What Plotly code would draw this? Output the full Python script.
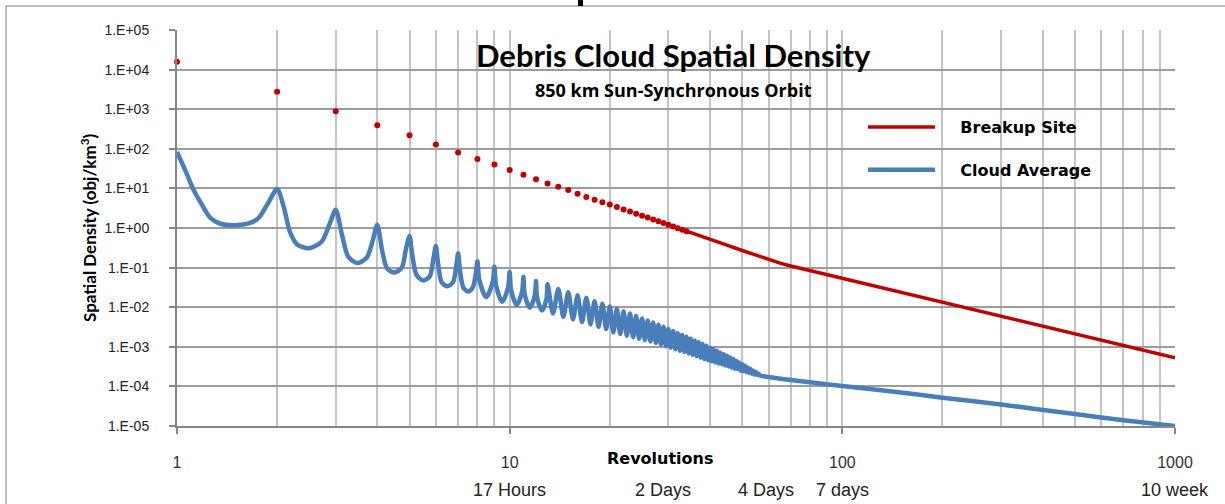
import math
import plotly.graph_objects as go

# ---------------- data ----------------
# Breakup Site: one value per revolution; individual dots visible up to ~34 revs
breakup_dot_rev = list(range(1, 35))
breakup_dot_density = [15800, 2770, 890, 392, 219, 129, 81, 55, 40, 29,
                       22, 17, 13.3, 11, 9.1, 7.3, 6.1, 5.2, 4.5, 3.9,
                       3.4, 2.95, 2.6, 2.3, 2.05, 1.83, 1.64, 1.47, 1.33, 1.2,
                       1.09, 0.99, 0.9, 0.83]
# beyond ~34 revs the dots merge into a continuous line
breakup_line_rev = [34, 36, 40, 45, 50, 55, 60, 65, 70, 80, 100, 150, 200, 300, 500, 700, 1000]
breakup_line_density = [0.83, 0.71, 0.52, 0.37, 0.27, 0.205, 0.158, 0.13, 0.11, 0.084,
                        0.053, 0.0235, 0.0132, 0.0059, 0.0021, 0.00107, 0.00053]

# Cloud Average: oscillating curve, peaks at each whole revolution
cloud_early_rev = [1.00, 1.06, 1.12, 1.19, 1.26, 1.35, 1.50, 1.65, 1.76, 1.88, 2.00,
                   2.09, 2.19, 2.30, 2.50, 2.72, 2.88, 3.00,
                   3.13, 3.27, 3.48, 3.72, 3.88, 4.00,
                   4.14, 4.28, 4.50, 4.74, 4.88, 5.00,
                   5.10, 5.25, 5.50, 5.75, 5.90, 6.00,
                   6.09, 6.25, 6.50, 6.75, 6.91, 7.00,
                   7.09, 7.26, 7.50, 7.74, 7.91, 8.00,
                   8.10, 8.50, 8.90, 9.00,
                   9.10, 9.50, 9.90, 10.00,
                   10.10, 10.50, 10.90, 11.00,
                   11.10, 11.50, 11.90, 12.00,
                   12.10, 12.50, 12.90, 13.00,
                   13.50, 14.00, 14.50, 15.00, 15.50, 16.00,
                   16.50, 17.00, 17.50, 18.00, 18.50, 19.00, 19.50, 20.00]
cloud_early_density = [83, 28, 9.4, 3.8, 1.8, 1.28, 1.18, 1.32, 1.8, 4.3, 9.6,
                       3.6, 0.76, 0.38, 0.31, 0.45, 1.3, 2.9,
                       0.7, 0.19, 0.13, 0.18, 0.5, 1.2,
                       0.26, 0.095, 0.075, 0.1, 0.3, 0.63,
                       0.2, 0.065, 0.047, 0.06, 0.17, 0.35,
                       0.13, 0.042, 0.034, 0.042, 0.11, 0.23,
                       0.085, 0.031, 0.025, 0.031, 0.07, 0.145,
                       0.05, 0.018, 0.045, 0.105,
                       0.036, 0.0138, 0.033, 0.077,
                       0.027, 0.0114, 0.025, 0.059,
                       0.021, 0.0097, 0.02, 0.046,
                       0.017, 0.0083, 0.016, 0.038,
                       0.0069, 0.029, 0.0057, 0.024, 0.0049, 0.020,
                       0.0042, 0.0174, 0.0037, 0.0142, 0.0032, 0.0123, 0.0028, 0.0104]
# dense part: peak at each whole revolution 21..56, trough half a revolution later (20.5..56.5)
cloud_peak_rev = list(range(21, 57))
cloud_peak_density = [0.0091, 0.0079, 0.0069, 0.0060, 0.0052, 0.0046, 0.0041, 0.0036, 0.0032, 0.0028,
                      0.0025, 0.0022, 0.0020, 0.0018, 0.0016, 0.00145, 0.0013, 0.00118, 0.00107, 0.00095,
                      0.00087, 0.00079, 0.00071, 0.00065, 0.00059, 0.00054, 0.00049, 0.00044, 0.0004, 0.00036,
                      0.00033, 0.0003, 0.000275, 0.00025, 0.00023, 0.00021]
cloud_trough_rev = [r + 0.5 for r in range(20, 57)]
cloud_trough_density = [0.0023, 0.0021, 0.0019, 0.00175, 0.0016, 0.00148, 0.00136, 0.00125, 0.00114, 0.00104,
                        0.00095, 0.00087, 0.0008, 0.00074, 0.00068, 0.00063, 0.00058, 0.00053, 0.00049, 0.00046,
                        0.00043, 0.0004, 0.00038, 0.00036, 0.00034, 0.00032, 0.0003, 0.00028, 0.00027, 0.00025,
                        0.00024, 0.00023, 0.00022, 0.00021, 0.0002, 0.000195, 0.00019]
cloud_tail_rev = [58, 60, 70, 80, 100, 150, 200, 300, 500, 700, 1000]
cloud_tail_density = [1.8e-4, 1.72e-4, 1.45e-4, 1.27e-4, 1.02e-4, 7.0e-5, 5.2e-5, 3.5e-5, 2.0e-5, 1.4e-5, 1.0e-5]

# tick labels
x_tick_vals = [1, 10, 100, 1000]
x_tick_text = ["1", "10", "100", "1000"]
y_tick_vals = [1e-5, 1e-4, 1e-3, 1e-2, 1e-1, 1, 10, 100, 1e3, 1e4, 1e5]
y_tick_text = ["1.E-05", "1.E-04", "1.E-03", "1.E-02", "1.E-01", "1.E+00",
               "1.E+01", "1.E+02", "1.E+03", "1.E+04", "1.E+05"]
x_minor_vals = [m * d for d in (1, 10, 100) for m in range(2, 10)]
time_label_rev = [10, 29, 59, 100, 1000]
time_label_text = ["17 Hours", "2 Days", "4 Days", "7 days", "10 week"]

# assemble the cloud curve (peak / trough interleaving for the dense region)
cloud_rev = list(cloud_early_rev)
cloud_density = list(cloud_early_density)
for i in range(len(cloud_trough_rev)):
    cloud_rev.append(cloud_trough_rev[i]); cloud_density.append(cloud_trough_density[i])
    if i < len(cloud_peak_rev):
        cloud_rev.append(cloud_peak_rev[i]); cloud_density.append(cloud_peak_density[i])
cloud_rev += cloud_tail_rev
cloud_density += cloud_tail_density

RED = "#C00000"
BLUE = "#4A7EBB"
NB = "\u00a0"

fig = go.Figure()
fig.add_trace(go.Scatter(x=cloud_rev, y=cloud_density, mode="lines", name=NB * 4 + "<b>Cloud Average</b>",
                         line=dict(color=BLUE, width=4.5, shape="spline", smoothing=0.8),
                         legendgroup="b"))
fig.add_trace(go.Scatter(x=breakup_line_rev, y=breakup_line_density, mode="lines",
                         name=NB * 4 + "<b>Breakup Site</b>", line=dict(color=RED, width=3.5),
                         legendgroup="a", legendrank=1))
fig.add_trace(go.Scatter(x=breakup_dot_rev, y=breakup_dot_density, mode="markers",
                         marker=dict(color=RED, size=6), showlegend=False, cliponaxis=False))

W, H = 1225, 504
L, R, T, B = 177, 50, 30, 78
pw, ph = W - L - R, H - T - B

def px(x):
    return (x - L) / pw

def py(y):
    return (H - B - y) / ph

annotations = [
    dict(text="<b>Debris Cloud Spatial Density</b>", x=px(673), y=py(55), xref="paper", yref="paper",
         showarrow=False, font=dict(family="Lato", size=31, color="#000000"), xanchor="center", yanchor="middle"),
    dict(text="<b>850 km Sun-Synchronous Orbit</b>", x=px(673), y=py(90), xref="paper", yref="paper",
         showarrow=False, font=dict(family="Open Sans", size=18, color="#000000"), xanchor="center", yanchor="middle"),
    dict(text="<b>Revolutions</b>", x=px(660), y=py(458), xref="paper", yref="paper",
         showarrow=False, font=dict(family="DejaVu Sans", size=16, color="#000000"), xanchor="center", yanchor="middle"),
    dict(text="<b>Spatial Density (obj/km<sup>3</sup>)</b>", x=px(88), y=0.5, xref="paper", yref="paper",
         textangle=-90, showarrow=False, font=dict(family="Lato", size=17, color="#000000"),
         xanchor="center", yanchor="middle"),
]
for r, t in zip(time_label_rev, time_label_text):
    annotations.append(dict(text=t, x=math.log10(r), y=py(490), xref="x", yref="paper", showarrow=False,
                            font=dict(family="Liberation Sans", size=18, color="#222222"),
                            xanchor="center", yanchor="middle"))

shapes = [
    dict(type="rect", xref="paper", yref="paper", x0=px(6), x1=px(1240), y0=py(520), y1=py(6),
         line=dict(color="#A6A6A6", width=1.5), fillcolor="rgba(0,0,0,0)", layer="below"),
    dict(type="rect", xref="paper", yref="paper", x0=px(578), x1=px(583), y0=py(6), y1=py(-2),
         line=dict(width=0), fillcolor="#000000"),
]

fig.update_layout(
    width=W, height=H, autosize=False,
    margin=dict(l=L, r=R, t=T, b=B),
    paper_bgcolor="white", plot_bgcolor="white",
    annotations=annotations, shapes=shapes,
    showlegend=True,
    legend=dict(x=px(863), y=py(110), xanchor="left", yanchor="top",
                bgcolor="rgba(0,0,0,0)", traceorder="grouped", tracegroupgap=19,
                itemwidth=67, font=dict(family="DejaVu Sans", size=16, color="#000000")),
    xaxis=dict(type="log", range=[0, 3], tickvals=x_tick_vals, ticktext=x_tick_text,
               ticks="outside", ticklen=6, tickcolor="#868686", tickwidth=1.5,
               showline=True, linecolor="#868686", linewidth=2,
               showgrid=True, gridcolor="#C4C4C4", gridwidth=2,
               minor=dict(tickvals=x_minor_vals, showgrid=True, gridcolor="#C4C4C4", gridwidth=2, ticks=""),
               tickfont=dict(family="Liberation Sans", size=16, color="#333333"),
               ticklabelstandoff=15),
    yaxis=dict(type="log", range=[-5, 5], tickvals=y_tick_vals, ticktext=y_tick_text,
               ticks="outside", ticklen=6, tickcolor="#868686", tickwidth=1.5,
               showline=True, linecolor="#868686", linewidth=2,
               showgrid=True, gridcolor="#9C9C9C", gridwidth=2,
               tickfont=dict(family="Liberation Sans", size=14, color="#222222"),
               ticklabelstandoff=17),
)

fig.write_html("out.html", config={"displayModeBar": False},
               post_script="document.body.style.margin='0px';")
